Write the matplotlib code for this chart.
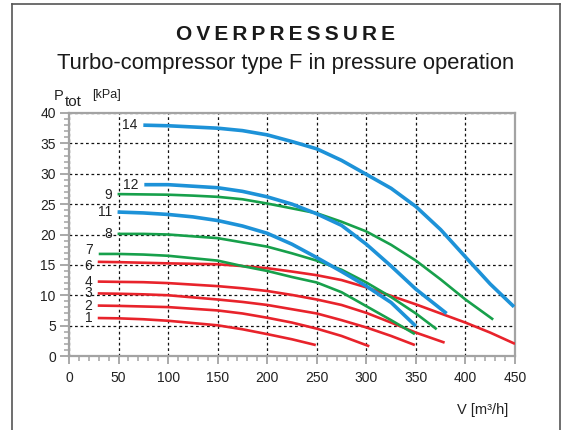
import matplotlib
matplotlib.use("Agg")
import matplotlib.pyplot as plt
from matplotlib.lines import Line2D
from matplotlib.ticker import MultipleLocator

plt.rcParams['font.family'] = ['Liberation Sans', 'DejaVu Sans']

# courbes : débit V [m3/h], pression P [kPa]
v1 = [29, 50, 75, 100, 150, 175, 200, 225, 249]
p1 = [6.25, 6.2, 6.05, 5.8, 5.05, 4.4, 3.6, 2.75, 1.8]
v2 = [29, 50, 75, 100, 150, 175, 200, 225, 250, 275, 303]
p2 = [8.3, 8.25, 8.15, 8.05, 7.5, 7.0, 6.3, 5.5, 4.5, 3.3, 1.6]
v3 = [29, 50, 75, 100, 150, 175, 200, 225, 250, 275, 300, 325, 349]
p3 = [10.3, 10.25, 10.15, 10.0, 9.3, 8.9, 8.4, 7.7, 7.0, 5.9, 4.7, 3.3, 1.8]
v4 = [29, 50, 75, 100, 125, 150, 175, 200, 225, 250, 275, 300, 325, 350, 379]
p4 = [12.25, 12.2, 12.15, 12.0, 11.75, 11.5, 11.15, 10.7, 10.05, 9.3, 8.4, 7.1, 5.5, 3.85, 2.2]
v6 = [29, 50, 75, 100, 150, 175, 200, 225, 250, 275, 300, 325, 350, 375, 400, 425, 450]
p6 = [15.5, 15.45, 15.35, 15.25, 15.1, 14.8, 14.45, 13.9, 13.3, 12.5, 11.3, 9.9, 8.5, 7.0, 5.5, 3.85, 2.0]
v7 = [30, 50, 75, 100, 125, 150, 175, 200, 225, 250, 275, 300, 325, 349]
p7 = [16.8, 16.8, 16.7, 16.5, 16.1, 15.7, 14.8, 14.0, 13.0, 12.1, 10.5, 8.2, 5.9, 3.6]
v8 = [49, 75, 100, 125, 150, 175, 200, 225, 250, 275, 300, 325, 350, 371]
p8 = [20.1, 20.1, 20.0, 19.7, 19.4, 18.7, 18.0, 16.9, 15.7, 14.2, 12.1, 9.7, 7.0, 4.4]
v9 = [49, 75, 100, 125, 150, 175, 200, 225, 250, 275, 300, 325, 350, 375, 400, 428]
p9 = [26.65, 26.6, 26.55, 26.4, 26.2, 25.8, 25.1, 24.3, 23.5, 22.1, 20.5, 18.3, 15.7, 12.6, 9.3, 6.0]
v11 = [49, 75, 100, 125, 150, 175, 200, 225, 250, 275, 300, 325, 350]
p11 = [23.7, 23.55, 23.3, 22.9, 22.3, 21.4, 20.2, 18.4, 16.2, 13.9, 11.5, 8.8, 4.9]
v12 = [76, 100, 125, 150, 175, 200, 225, 250, 275, 300, 325, 350, 381]
p12 = [28.2, 28.2, 27.95, 27.7, 27.1, 26.2, 25.0, 23.4, 21.5, 18.4, 14.8, 11.0, 7.0]
v14 = [75, 100, 125, 150, 175, 200, 225, 250, 275, 300, 325, 350, 375, 400, 425, 449]
p14 = [38.0, 37.9, 37.7, 37.5, 37.1, 36.4, 35.3, 34.1, 32.2, 29.9, 27.6, 24.6, 20.8, 16.3, 11.85, 8.1]

rouge = '#e8232b'
vert = '#17a04b'
bleu = '#1d92d8'

courbes = [
    ('1', v1, p1, rouge), ('2', v2, p2, rouge), ('3', v3, p3, rouge),
    ('4', v4, p4, rouge), ('6', v6, p6, rouge), ('7', v7, p7, vert),
    ('8', v8, p8, vert), ('9', v9, p9, vert), ('11', v11, p11, bleu),
    ('12', v12, p12, bleu), ('14', v14, p14, bleu),
]
# petits décalages des numéros (en points)
decal = {'6': (0, -3), '7': (0, 2.5), '9': (0, -1)}

fig = plt.figure(figsize=(5.72, 4.30), dpi=100)
ax = fig.add_axes([69 / 572, 1 - 356 / 430, 446 / 572, 243 / 430])

for nom, v, p, c in courbes:
    lw = 2.6 if c == bleu else 1.9
    ax.plot(v, p, color=c, lw=lw, solid_capstyle='butt', solid_joinstyle='round', zorder=3)
    dx, dy = decal.get(nom, (0, 0))
    ax.annotate(nom, xy=(v[0], p[0]), xytext=(-4 + dx, dy), textcoords='offset points',
                ha='right', va='center', fontsize=10, color='#222222')

ax.set_xlim(0, 450)
ax.set_ylim(0, 40)
ax.xaxis.set_major_locator(MultipleLocator(50))
ax.xaxis.set_minor_locator(MultipleLocator(10))
ax.yaxis.set_major_locator(MultipleLocator(5))
ax.yaxis.set_minor_locator(MultipleLocator(1))
ax.grid(True, which='major', color='#111111', ls=(0, (2.2, 2.2)), lw=0.9, zorder=1)

for s in ax.spines.values():
    s.set_color('#a3a3a3')
    s.set_linewidth(1.6)
ax.tick_params(which='major', direction='out', length=6.5, width=1.3, color='#a3a3a3',
               labelsize=10, labelcolor='#222222', pad=3)
ax.tick_params(which='minor', direction='out', length=3.5, width=1.1, color='#a3a3a3')
ax.tick_params(axis='x', which='major', length=5.5, pad=5)

# titres
fig.text(0.5, 1 - 35 / 430, '\u2009'.join('OVERPRESSURE'), ha='center', va='center',
         fontsize=15, fontweight='bold', color='#1a1a1a')
fig.text(0.5, 1 - 63 / 430, 'Turbo-compressor type F in pressure operation', ha='center',
         va='center', fontsize=15.8, color='#1a1a1a')

# axes
fig.text(54 / 572, 1 - 100 / 430, 'P', fontsize=10.5, color='#222222', va='baseline')
fig.text(65 / 572, 1 - 106 / 430, 'tot', fontsize=11, color='#222222', va='baseline')
fig.text(92 / 572, 1 - 98 / 430, '[kPa]', fontsize=9, color='#222222', va='baseline')
fig.text(483 / 572, 1 - 410 / 430, 'V [m\u00b3/h]', fontsize=10.5, color='#222222',
         ha='center', va='center')

# cadre
c_cadre = '#555555'
fig.add_artist(Line2D([12 / 572, 12 / 572], [0, 1 - 4 / 430], transform=fig.transFigure,
                      color=c_cadre, lw=1.2))
fig.add_artist(Line2D([12 / 572, 560 / 572], [1 - 4 / 430, 1 - 4 / 430],
                      transform=fig.transFigure, color=c_cadre, lw=1.2))
fig.add_artist(Line2D([560 / 572, 560 / 572], [0, 1 - 4 / 430], transform=fig.transFigure,
                      color=c_cadre, lw=1.2))

fig.savefig('out.png', dpi=100)
